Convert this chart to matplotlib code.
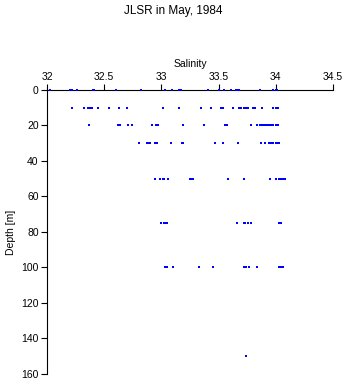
import numpy as np
import matplotlib
matplotlib.use('Agg')
import matplotlib.pyplot as plt

plt.rcParams['font.family'] = ['Liberation Sans', 'DejaVu Sans']

# Salinity readings per sampling depth
sal_0 = [32.03, 32.20, 32.22, 32.26, 32.40, 32.41, 32.60, 32.82, 33.03, 33.09,
         33.15, 33.17, 33.41, 33.50, 33.55, 33.61, 33.65, 33.67, 33.68, 33.86,
         33.98, 34.00, 34.01]
sal_10 = [32.22, 32.32, 32.36, 32.38, 32.39, 32.45, 32.54, 32.63, 32.70, 33.01,
          33.15, 33.35, 33.43, 33.52, 33.54, 33.63, 33.68, 33.70, 33.72, 33.74,
          33.76, 33.80, 33.82, 33.88, 33.98, 34.00, 34.02]
sal_20 = [32.37, 32.62, 32.64, 32.71, 32.74, 32.92, 32.95, 32.97, 33.19, 33.37,
          33.56, 33.57, 33.78, 33.84, 33.86, 33.88, 33.89, 33.91, 33.92, 33.94,
          33.95, 33.97, 33.98, 34.00, 34.02]
sal_30 = [32.80, 32.87, 32.89, 32.90, 32.94, 32.96, 33.08, 33.18, 33.19, 33.47,
          33.54, 33.67, 33.87, 33.91, 33.94, 33.95, 33.97, 33.98, 34.00, 34.01,
          34.03]
sal_50 = [32.94, 32.99, 33.01, 33.02, 33.06, 33.25, 33.27, 33.28, 33.58, 33.72,
          33.95, 34.00, 34.03, 34.05, 34.06, 34.08]
sal_75 = [33.00, 33.02, 33.04, 33.05, 33.66, 33.72, 33.73, 33.76, 33.78, 34.03,
          34.04, 34.05]
sal_100 = [33.03, 33.05, 33.10, 33.33, 33.45, 33.72, 33.74, 33.77, 33.84, 34.03,
           34.05, 34.06]
sal_150 = [33.74]

depths = [0, 10, 20, 30, 50, 75, 100, 150]
salinity = [sal_0, sal_10, sal_20, sal_30, sal_50, sal_75, sal_100, sal_150]

xticks = [32, 32.5, 33, 33.5, 34, 34.5]
yticks = [0, 20, 40, 60, 80, 100, 120, 140, 160]

fig = plt.figure(figsize=(3.46, 3.84), dpi=100)
ax = fig.add_axes([0.136, 0.026, 0.826, 0.740])

for d, s in zip(depths, salinity):
    ax.plot(s, np.ones(len(s)) * d, 's', color='#0000ff', ms=1.7, mew=0,
            clip_on=False, zorder=3)

ax.set_xlim(32, 34.5)
ax.set_ylim(160, 0)
ax.xaxis.tick_top()
ax.xaxis.set_label_position('top')
ax.set_xticks(xticks)
ax.set_xticklabels(['32', '32.5', '33', '33.5', '34', '34.5'])
ax.set_yticks(yticks)
ax.spines['right'].set_visible(False)
ax.spines['bottom'].set_visible(False)
ax.tick_params(direction='out', length=4, width=0.8, labelsize=7.5, pad=2)
ax.set_xlabel('Salinity', fontsize=7.5, labelpad=3)
ax.set_ylabel('Depth [m]', fontsize=7.5, labelpad=4)

fig.text(0.5, 0.972, 'JLSR in May, 1984', ha='center', va='center', fontsize=8.5)

fig.savefig('out.png', dpi=100)
